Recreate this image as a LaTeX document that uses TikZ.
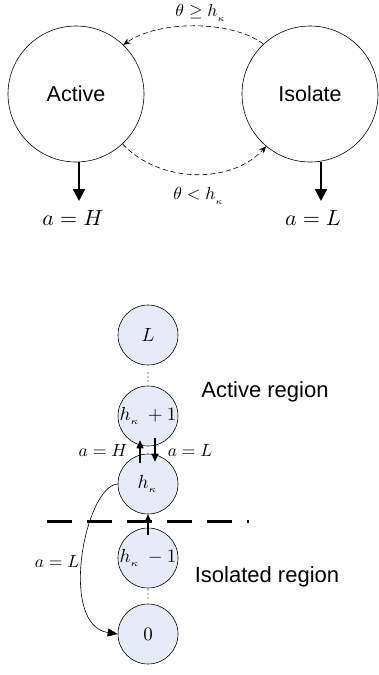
\documentclass[tikz,border=0pt]{standalone}
\usepackage{fontspec}
\usepackage{graphicx}
\newfontfamily\arial{Liberation Sans}
\usetikzlibrary{arrows.meta}
\definecolor{cfill}{HTML}{E6ECF7}
\newcommand{\mybigmath}[1]{\scalebox{2.2}{$#1$}}
\newcommand{\mymidmath}[1]{\scalebox{1.75}{$#1$}}
\newcommand{\mycirmath}[1]{\scalebox{1.9}{$#1$}}
\tikzset{
  bigstate/.style={circle,draw,line width=0.6pt,minimum size=136pt,inner sep=0pt,font=\arial\fontsize{21.5}{24}\selectfont},
  chainstate/.style={circle,draw,line width=0.6pt,fill=cfill,minimum size=60pt,inner sep=0pt},
  mathlbl/.style={inner sep=0pt},
  regionlbl/.style={inner sep=0pt,font=\arial\fontsize{22}{24}\selectfont},
  dasharr/.style={dash pattern=on 5pt off 3pt,line width=0.6pt,-{Stealth[length=7pt,width=6pt]}},
  thickarr/.style={line width=2.2pt,-{Triangle[length=12pt,width=12pt]}},
  chainarr/.style={line width=1.2pt,-{Triangle[length=8pt,width=7pt]}},
  curvearr/.style={line width=0.6pt,-{Triangle[length=10pt,width=8pt]}},
  dotpt/.style={circle,fill,inner sep=0pt,minimum size=1.4pt}
}
\begin{document}
\begin{tikzpicture}[x=1pt,y=-1pt]
\useasboundingbox (0,0) rectangle (379,675);
% top part
\node[bigstate] (A) at (76,94) {Active};
\node[bigstate] (I) at (310,94) {Isolate};
\draw[dasharr] (I.133) .. controls (232,20) and (158,20) .. (A.46);
\draw[dasharr] (A.313) .. controls (160,184) and (232,184) .. (I.230);
\node[mathlbl] (tge) at (201,13) {\mymidmath{\theta\geq h_{_\kappa}}};
\node[mathlbl] (tlt) at (199,196) {\mymidmath{\theta< h_{_\kappa}}};
\coordinate (Aout) at (79,162);
\coordinate (Aend) at (79,201);
\coordinate (Iout) at (321,162);
\coordinate (Iend) at (321,201);
\draw[thickarr] (Aout) -- (Aend);
\draw[thickarr] (Iout) -- (Iend);
\node[mathlbl] (aH) at (73,218) {\mybigmath{a=H}};
\node[mathlbl] (aL) at (313,218) {\mybigmath{a=L}};
% chain
\node[chainstate] (nL) at (148,335) {\mycirmath{L}};
\node[dotpt] (d1a) at (148,373) {};
\node[dotpt] (d1b) at (148,377) {};
\node[dotpt] (d1c) at (148,381) {};
\node[chainstate] (hp) at (148,416) {\mycirmath{h_{_\kappa}\,+1}};
\node[chainstate] (h) at (148,484) {\mycirmath{h_{_\kappa}}};
\node[chainstate] (hm) at (148,558) {\mycirmath{h_{_\kappa}\,-1}};
\node[dotpt] (d2a) at (148,590) {};
\node[dotpt] (d2b) at (148,594) {};
\node[dotpt] (d2c) at (148,598) {};
\node[chainstate] (n0) at (148,634) {\mycirmath{0}};
\draw[chainarr] ([xshift=-8pt,yshift=-9pt]h.north) -- ([xshift=-8pt,yshift=6pt]hp.south);
\draw[chainarr] ([xshift=7pt,yshift=8pt]hp.south) -- ([xshift=7pt,yshift=-8pt]h.north);
\draw[chainarr] ([yshift=-7pt]hm.north) -- (h.south);
\node[mathlbl] (laH) at (103,451) {\mymidmath{a=H}};
\node[mathlbl] (laL) at (190,451) {\mymidmath{a=L}};
\draw[line width=3pt,dash pattern=on 25pt off 15pt] (47,521) coordinate (dl1) -- (249,521) coordinate (dl2);
\draw[curvearr] (h.west) .. controls (85,486) and (58,625) .. (n0.west);
\node[mathlbl] (laL2) at (57,562) {\mymidmath{a=L}};
\node[regionlbl] (ar) at (265,392) {Active region};
\node[regionlbl] (ir) at (267,577) {Isolated region};
\end{tikzpicture}
\end{document}
